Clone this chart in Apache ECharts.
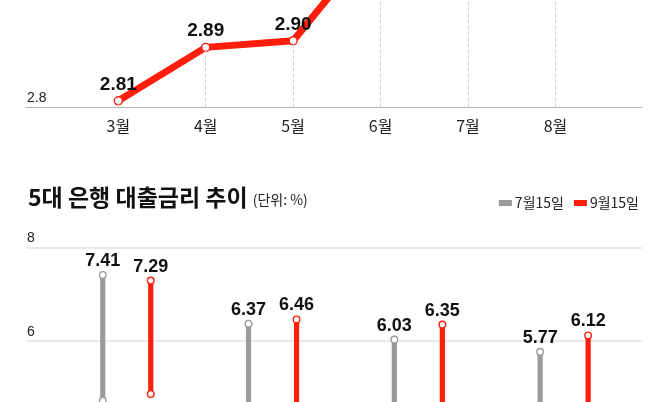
<!DOCTYPE html>
<html>
<head>
<meta charset="utf-8">
<script src="https://cdn.jsdelivr.net/npm/echarts@6/dist/echarts.min.js"></script>
<style>
  html, body { margin: 0; padding: 0; background: #fff; overflow: hidden; }
  /* 원본 그림은 위아래가 잘린 상태라 캔버스를 크게 잡고 위로 400px 올림 */
  #chart { position: absolute; left: 0; top: -400px; width: 666px; height: 900px; }
</style>
</head>
<body>
<div id="chart"></div>
<script>
// 위: 월별 금리 (6월 이후는 화면 위로 잘림)
const months = [3, 4, 5, 6, 7, 8];
const rateValues = [2.81, 2.89, 2.90, 3.06, 3.24, 3.36];
const rateMin = 2.8;

// 아래: 5대 은행 대출금리 범위 (하단값은 화면 아래로 잘림)
const banks = ['KB국민', '신한', '하나', '우리'];
const julLow = [4.73, 4.55, 4.40, 4.30];
const julHigh = [7.41, 6.37, 6.03, 5.77];
const sepLow = [4.87, 4.60, 4.50, 4.45];
const sepHigh = [7.29, 6.46, 6.35, 6.12];
const seriesNames = ['7월15일', '9월15일'];

const OFF = 400; // 캔버스 위쪽 숨김 높이
const RED = '#ff1e0c';
const GRAY = '#9b9b9b';
const numFont = '"Liberation Sans", Arial, sans-serif';
const krFont = '"Noto Sans CJK KR", "Noto Sans", sans-serif';

const chart = echarts.init(document.getElementById('chart'));

// 범위 막대 + 양끝 동그라미 + 값 라벨
function rangeRenderer(color, dx) {
  return function (params, api) {
    const idx = api.value(0);
    const lo = api.coord([idx, api.value(1)]);
    const hi = api.coord([idx, api.value(2)]);
    const x = lo[0] + dx;
    return {
      type: 'group',
      children: [
        {
          type: 'rect',
          shape: { x: x - 2.6, y: hi[1], width: 5.2, height: lo[1] - hi[1] },
          style: { fill: color }
        },
        {
          type: 'circle',
          shape: { cx: x, cy: hi[1], r: 3.3 },
          style: { fill: '#fff', stroke: color, lineWidth: 1.4 }
        },
        {
          type: 'circle',
          shape: { cx: x, cy: lo[1], r: 3.3 },
          style: { fill: '#fff', stroke: color, lineWidth: 1.4 }
        },
        {
          type: 'text',
          x: x,
          y: hi[1] - 5,
          style: {
            text: api.value(2).toFixed(2),
            fill: '#111',
            font: 'bold 18px ' + numFont,
            align: 'center',
            verticalAlign: 'bottom'
          }
        }
      ]
    };
  };
}

chart.setOption({
  animation: false,
  backgroundColor: '#fff',
  title: {
    left: 23,
    top: OFF + 181,
    text: '{a|5대 은행 대출금리 추이} {b|(단위: %)}',
    textStyle: {
      rich: {
        a: { fontFamily: krFont, fontWeight: 'bold', fontSize: 23, color: '#111', verticalAlign: 'bottom' },
        b: { fontFamily: krFont, fontWeight: 'normal', fontSize: 14, color: '#222', verticalAlign: 'bottom', padding: [0, 0, 2, 0] }
      }
    }
  },
  legend: {
    data: seriesNames,
    right: 22,
    top: OFF + 191,
    icon: 'rect',
    itemWidth: 13,
    itemHeight: 6,
    itemGap: 10,
    textStyle: { fontFamily: krFont, fontSize: 14, color: '#222', padding: [0, 0, 0, -2] }
  },
  grid: [
    { left: 26, right: 24, top: OFF + 107.5 - 0.6 * 668, height: 0.6 * 668 },
    { left: 26, right: 24, top: OFF + 247.3, height: 4 * 46.85 }
  ],
  xAxis: [
    {
      gridIndex: 0,
      type: 'value',
      min: 1.944,
      max: 8.99,
      axisLine: { show: true, lineStyle: { color: '#b4b4b4', width: 1.2 } },
      axisTick: { show: false },
      splitLine: { show: false },
      axisLabel: {
        customValues: months,
        formatter: v => v + '월',
        fontFamily: krFont,
        fontSize: 16,
        color: '#222',
        margin: 10
      }
    },
    {
      gridIndex: 1,
      type: 'value',
      min: -0.691,
      max: 3.534,
      show: false
    }
  ],
  yAxis: [
    {
      gridIndex: 0,
      type: 'value',
      min: rateMin,
      max: 3.4,
      interval: 0.2,
      axisLine: { show: false },
      axisTick: { show: false },
      splitLine: { show: false },
      axisLabel: {
        inside: true,
        margin: 1,
        verticalAlign: 'bottom',
        padding: [0, 0, 2, 0],
        fontFamily: numFont,
        fontSize: 14,
        color: '#222',
        formatter: v => String(+v.toFixed(1))
      }
    },
    {
      gridIndex: 1,
      type: 'value',
      min: 4,
      max: 8,
      interval: 2,
      axisLine: { show: false },
      axisTick: { show: false },
      splitLine: { lineStyle: { color: '#e2e2e2', width: 1.5 } },
      axisLabel: {
        inside: true,
        margin: 1,
        verticalAlign: 'bottom',
        padding: [0, 0, 2, 0],
        fontFamily: numFont,
        fontSize: 14,
        color: '#222'
      }
    }
  ],
  series: [
    {
      type: 'line',
      xAxisIndex: 0,
      yAxisIndex: 0,
      data: months.map((m, i) => [m, rateValues[i]]),
      symbol: 'circle',
      symbolSize: 8,
      lineStyle: { color: RED, width: 7 },
      itemStyle: { color: '#fff', borderColor: RED, borderWidth: 1.4 },
      label: {
        show: true,
        position: 'top',
        distance: 2,
        formatter: p => p.value[1].toFixed(2),
        fontFamily: numFont,
        fontWeight: 'bold',
        fontSize: 19,
        color: '#111'
      },
      markLine: {
        silent: true,
        symbol: ['none', 'none'],
        label: { show: false },
        lineStyle: { type: 'dashed', color: '#d2d2d2', width: 1 },
        data: months.map((m, i) => [
          { coord: [m, rateMin] },
          { coord: [m, rateValues[i]] }
        ])
      },
      z: 3
    },
    {
      name: seriesNames[0],
      type: 'custom',
      xAxisIndex: 1,
      yAxisIndex: 1,
      itemStyle: { color: GRAY },
      renderItem: rangeRenderer(GRAY, -24),
      data: banks.map((b, i) => ({ name: b, value: [i, julLow[i], julHigh[i]] }))
    },
    {
      name: seriesNames[1],
      type: 'custom',
      xAxisIndex: 1,
      yAxisIndex: 1,
      itemStyle: { color: RED },
      renderItem: rangeRenderer(RED, 24),
      data: banks.map((b, i) => ({ name: b, value: [i, sepLow[i], sepHigh[i]] }))
    }
  ]
});
</script>
</body>
</html>
